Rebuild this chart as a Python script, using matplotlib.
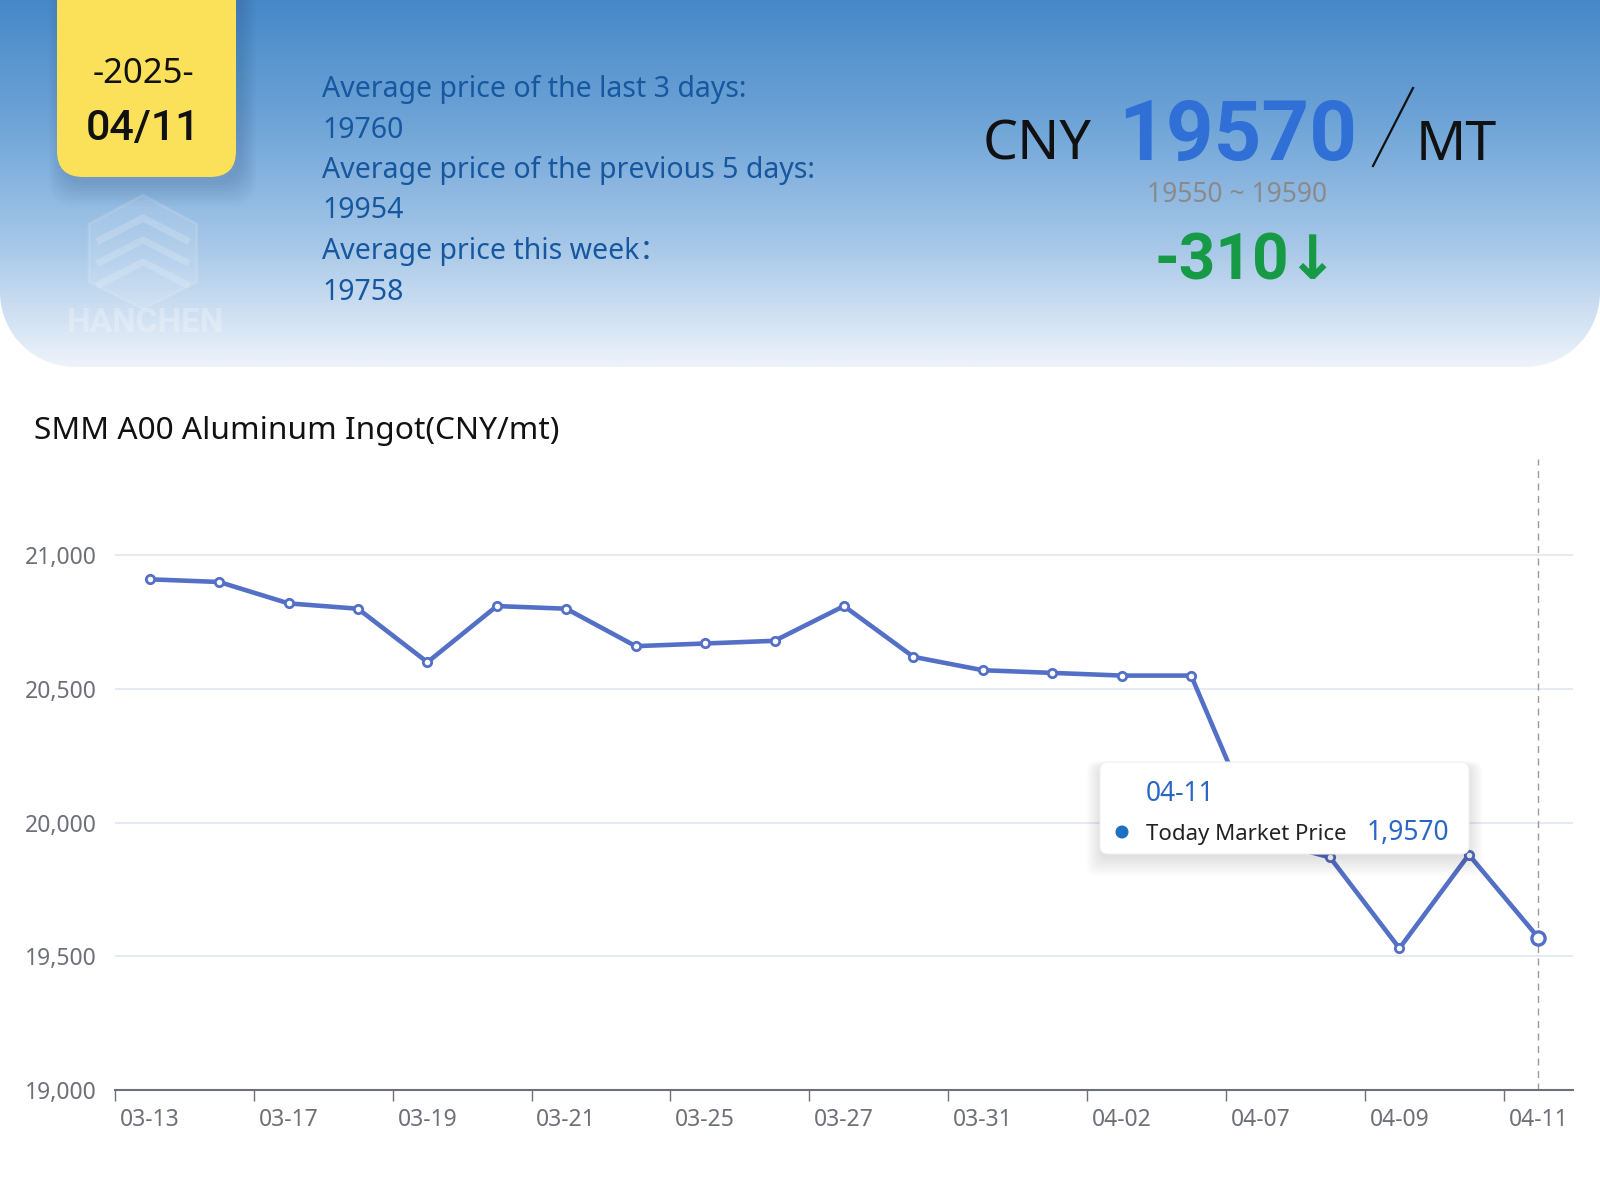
import numpy as np
import matplotlib
matplotlib.use("Agg")
import matplotlib.pyplot as plt
from matplotlib.colors import LinearSegmentedColormap
from matplotlib.patches import FancyBboxPatch, PathPatch, Circle, Polygon
from matplotlib.path import Path
from matplotlib.lines import Line2D

plt.rcParams['font.family'] = ['Noto Sans', 'Noto Sans CJK SC', 'DejaVu Sans']

# ---- data ----
dates = ['03-13', '03-14', '03-17', '03-18', '03-19', '03-20', '03-21',
         '03-24', '03-25', '03-26', '03-27', '03-28', '03-31', '04-01',
         '04-02', '04-03', '04-07', '04-08', '04-09', '04-10', '04-11']
prices = [20910, 20900, 20820, 20800, 20600, 20810, 20800,
          20660, 20670, 20680, 20810, 20620, 20570, 20560,
          20550, 20550, 19940, 19870, 19530, 19880, 19570]
yticks = [19000, 19500, 20000, 20500, 21000]

avg_lines = ['Average price of the last 3 days:', '19760',
             'Average price of the previous 5 days:', '19954',
             'Average price this week\uff1a', '19758']
price_today = '19570'
price_range = '19550 ~ 19590'
change = '-310'
year_txt = '-2025-'
day_txt = '04/11'
title = 'SMM A00 Aluminum Ingot(CNY/mt)'
tip_date = '04-11'
tip_name = 'Today Market Price'
tip_value = '1,9570'

W, H = 1600, 1200
fig = plt.figure(figsize=(16, 12), dpi=100)
fig.patch.set_facecolor('white')

# ---- header background (pixel coords) ----
bg = fig.add_axes([0, 0, 1, 1], zorder=0)
bg.set_xlim(0, W)
bg.set_ylim(H, 0)
bg.axis('off')

hh, r = 367, 75
t = np.linspace(0, np.pi / 2, 30)
verts = [(0, 0), (W, 0), (W, hh - r)]
verts += [(W - r + r * np.cos(a), hh - r + r * np.sin(a)) for a in t]
verts += [(r - r * np.sin(a), hh - r + r * np.cos(a)) for a in t]
verts += [(0, hh - r), (0, 0)]
clip = PathPatch(Path(verts), facecolor='none', edgecolor='none')
bg.add_patch(clip)
cmap = LinearSegmentedColormap.from_list('hdr', ['#4788c8', '#6ea4d7', '#a6c7e8', '#eef3fa'])
grad = np.linspace(0, 1, 256).reshape(-1, 1)
im = bg.imshow(grad, cmap=cmap, extent=[0, W, hh, 0], aspect='auto', zorder=0)
im.set_clip_path(clip)

# watermark
hexv = [(143, 195), (197, 224), (197, 282), (143, 309), (89, 282), (89, 224)]
bg.add_patch(Polygon(hexv, closed=True, facecolor='white', alpha=0.12, edgecolor='white', lw=2))
for dy in (0, 22, 44):
    bg.plot([100, 143, 186], [240 + dy, 218 + dy, 240 + dy], color='white', alpha=0.18, lw=5)
bg.text(146, 332, 'HANCHEN', ha='center', va='baseline', fontsize=24, fontweight='bold',
        color='white', alpha=0.25, family=['Roboto', 'DejaVu Sans'])

# yellow date box with soft shadow
for i in range(8):
    bg.add_patch(FancyBboxPatch((57 - i * 2 + 6, -40 + 8), 179 + i * 4, 217 + i * 3,
                                boxstyle='round,pad=0,rounding_size=26',
                                facecolor='#20406a', edgecolor='none', alpha=0.025))
bg.add_patch(FancyBboxPatch((57, -40), 179, 217, boxstyle='round,pad=0,rounding_size=26',
                            facecolor='#fbe15a', edgecolor='none'))
bg.text(143, 83, year_txt, ha='center', va='baseline', fontsize=25, color='#111111')
bg.text(143, 140, day_txt, ha='center', va='baseline', fontsize=31, color='#111111',
        fontweight='medium', family=['Roboto', 'DejaVu Sans'])

# average lines
for i, s in enumerate(avg_lines):
    bg.text(322, 97 + i * 40.5, s, ha='left', va='baseline', fontsize=20.5, color='#16579f',
            fontweight='medium')

# big price block
bg.text(983, 160, 'CNY', ha='left', va='baseline', fontsize=40, color='#111111')
bg.text(1118, 160, price_today, ha='left', va='baseline', fontsize=60, color='#2f6fd6',
        fontweight='bold', family=['Roboto', 'DejaVu Sans'])
bg.add_line(Line2D([1373, 1413], [166, 88], color='#111111', lw=1.6))
bg.text(1416, 160, 'MT', ha='left', va='baseline', fontsize=40, color='#111111')
bg.text(1237, 202, price_range, ha='center', va='baseline', fontsize=19, color='#8a8a8a')
bg.text(1155, 279, change, ha='left', va='baseline', fontsize=46, color='#169a46',
        fontweight='bold', family=['Roboto', 'DejaVu Sans'])
bg.text(1312, 279, '\u2193', ha='center', va='baseline', fontsize=44, color='#169a46',
        fontweight='bold', family=['DejaVu Sans'])

# chart title
bg.text(34, 439, title, ha='left', va='baseline', fontsize=22.8, color='#111111')

# ---- line chart ----
ax = fig.add_axes([115 / W, 1 - 1090 / H, (1573 - 115) / W, (1090 - 459) / H], zorder=1)
ax.set_facecolor('none')
x = np.arange(len(dates))
ax.plot(x, prices, color='#5470c6', lw=3.3, zorder=3, solid_joinstyle='round')
ax.plot(x[:-1], prices[:-1], ls='none', marker='o', ms=6, mfc='white', mec='#5470c6',
        mew=2.0, zorder=4)
ax.plot(x[-1:], prices[-1:], ls='none', marker='o', ms=9.5, mfc='white', mec='#5470c6',
        mew=2.4, zorder=4)
ax.axvline(x[-1], color='#9a9a9a', lw=1, ls=(0, (5, 4)), zorder=2)

ax.set_xlim(-0.5, len(dates) - 0.5)
ax.set_ylim(19000, 21360)
ax.set_yticks(yticks)
ax.set_yticklabels([f'{v:,}' for v in yticks])
ax.yaxis.grid(True, color='#e0e6f1', lw=1.2)
ax.set_axisbelow(True)
ax.tick_params(axis='y', length=0, pad=13, labelsize=16.5, labelcolor='#6e7079')

ax.set_xticks(np.arange(-0.5, len(dates), 2))
ax.set_xticklabels([])
ax.set_xticks(x[::2], minor=True)
ax.set_xticklabels(dates[::2], minor=True)
ax.tick_params(axis='x', which='major', length=8, width=1, color='#6e7079', direction='out')
ax.tick_params(axis='x', which='minor', length=0, pad=13, labelsize=16.5, labelcolor='#6e7079')
for side in ('top', 'right', 'left'):
    ax.spines[side].set_visible(False)
ax.spines['bottom'].set_color('#6e7079')
ax.spines['bottom'].set_linewidth(1.5)

# ---- tooltip overlay ----
ov = fig.add_axes([0, 0, 1, 1], zorder=5)
ov.set_xlim(0, W)
ov.set_ylim(H, 0)
ov.axis('off')
ov.patch.set_alpha(0)
for i in range(10):
    ov.add_patch(FancyBboxPatch((1100 - i * 1.5, 766 - i * 0.5), 369 + i * 3, 92 + i * 2.5,
                                boxstyle='round,pad=0,rounding_size=10',
                                facecolor='#000000', edgecolor='none', alpha=0.012))
ov.add_patch(FancyBboxPatch((1100, 762), 369, 92, boxstyle='round,pad=0,rounding_size=8',
                            facecolor='white', edgecolor='#f0f0f0', lw=0.8))
ov.text(1146, 801, tip_date, ha='left', va='baseline', fontsize=19, color='#2a66c4')
ov.add_patch(Circle((1122, 832), 6.5, facecolor='#1f6fc4', edgecolor='none'))
ov.text(1146, 840, tip_name, ha='left', va='baseline', fontsize=16, color='#222222')
ov.text(1449, 840, tip_value, ha='right', va='baseline', fontsize=19, color='#2a66c4')

fig.savefig('out.png', dpi=100)
